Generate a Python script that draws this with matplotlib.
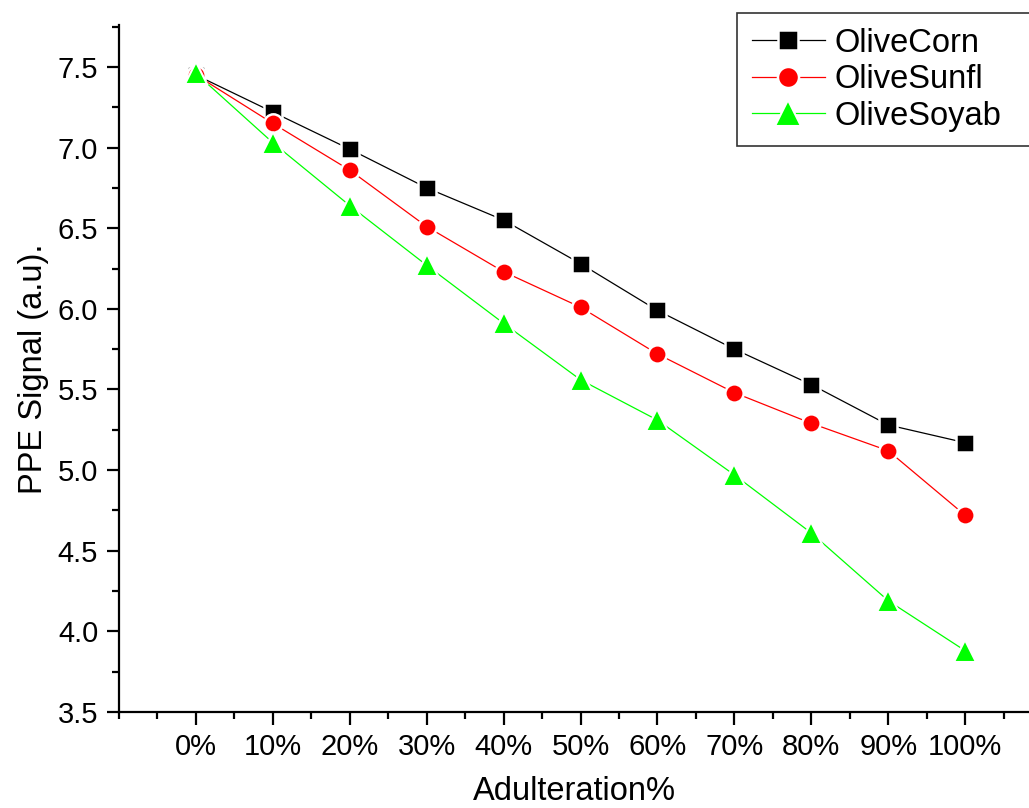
import matplotlib.pyplot as plt
from matplotlib.ticker import MultipleLocator

plt.rcParams['font.family'] = ['Liberation Sans', 'DejaVu Sans']

levels = ['0%', '10%', '20%', '30%', '40%', '50%', '60%', '70%', '80%', '90%', '100%']
olive_corn = [7.45, 7.22, 6.99, 6.75, 6.55, 6.28, 5.99, 5.75, 5.53, 5.28, 5.17]
olive_sunfl = [7.45, 7.15, 6.86, 6.51, 6.23, 6.01, 5.72, 5.48, 5.29, 5.12, 4.72]
olive_soyab = [7.46, 7.03, 6.64, 6.27, 5.91, 5.56, 5.31, 4.97, 4.61, 4.19, 3.88]

x = list(range(len(levels)))

fig = plt.figure(figsize=(10.29, 8.08), dpi=100)
ax = fig.add_axes([119 / 1029, 96 / 808, 1 - 119 / 1029, (712 - 25) / 808])

ax.plot(x, olive_corn, '-s', color='black', lw=0.9, ms=12.5, mec='white', mew=1.8,
        mfc='black', label='OliveCorn')
ax.plot(x, olive_sunfl, '-o', color='red', lw=0.9, ms=13.2, mec='white', mew=1.8,
        mfc='red', label='OliveSunfl')
ax.plot(x, olive_soyab, '-^', color='#00ff00', lw=0.9, ms=16, mec='white', mew=1.5,
        mfc='#00ff00', label='OliveSoyab')

ax.set_xlim(-1, 10.83)
ax.set_ylim(3.5, 7.76)
ax.set_xticks(x)
ax.set_xticklabels(levels)
ax.xaxis.set_minor_locator(MultipleLocator(0.5))
ax.yaxis.set_major_locator(MultipleLocator(0.5))
ax.yaxis.set_minor_locator(MultipleLocator(0.25))
ax.set_yticklabels([f'{v:.1f}' for v in ax.get_yticks()])

for side in ['top', 'right']:
    ax.spines[side].set_visible(False)
for side in ['left', 'bottom']:
    ax.spines[side].set_linewidth(1.6)

ax.tick_params(which='major', direction='out', length=9, width=1.6, labelsize=21, pad=6)
ax.tick_params(which='minor', direction='out', length=5, width=1.6)

ax.set_xlabel('Adulteration%', fontsize=23.5, labelpad=11)
ax.set_ylabel('PPE Signal (a.u).', fontsize=23.5, labelpad=6)

leg = fig.legend(loc='upper left', bbox_to_anchor=(737 / 1029, 0, 1.01 - 737 / 1029, 1 - 13 / 808),
                 mode='expand', fontsize=23.5, markerscale=1.15,
                 frameon=True, fancybox=False, edgecolor='black',
                 handlelength=2.25, handletextpad=0.28, borderpad=0.45, labelspacing=0.17,
                 borderaxespad=0)
leg.get_frame().set_linewidth(1.2)

plt.savefig('out.png', dpi=100)
